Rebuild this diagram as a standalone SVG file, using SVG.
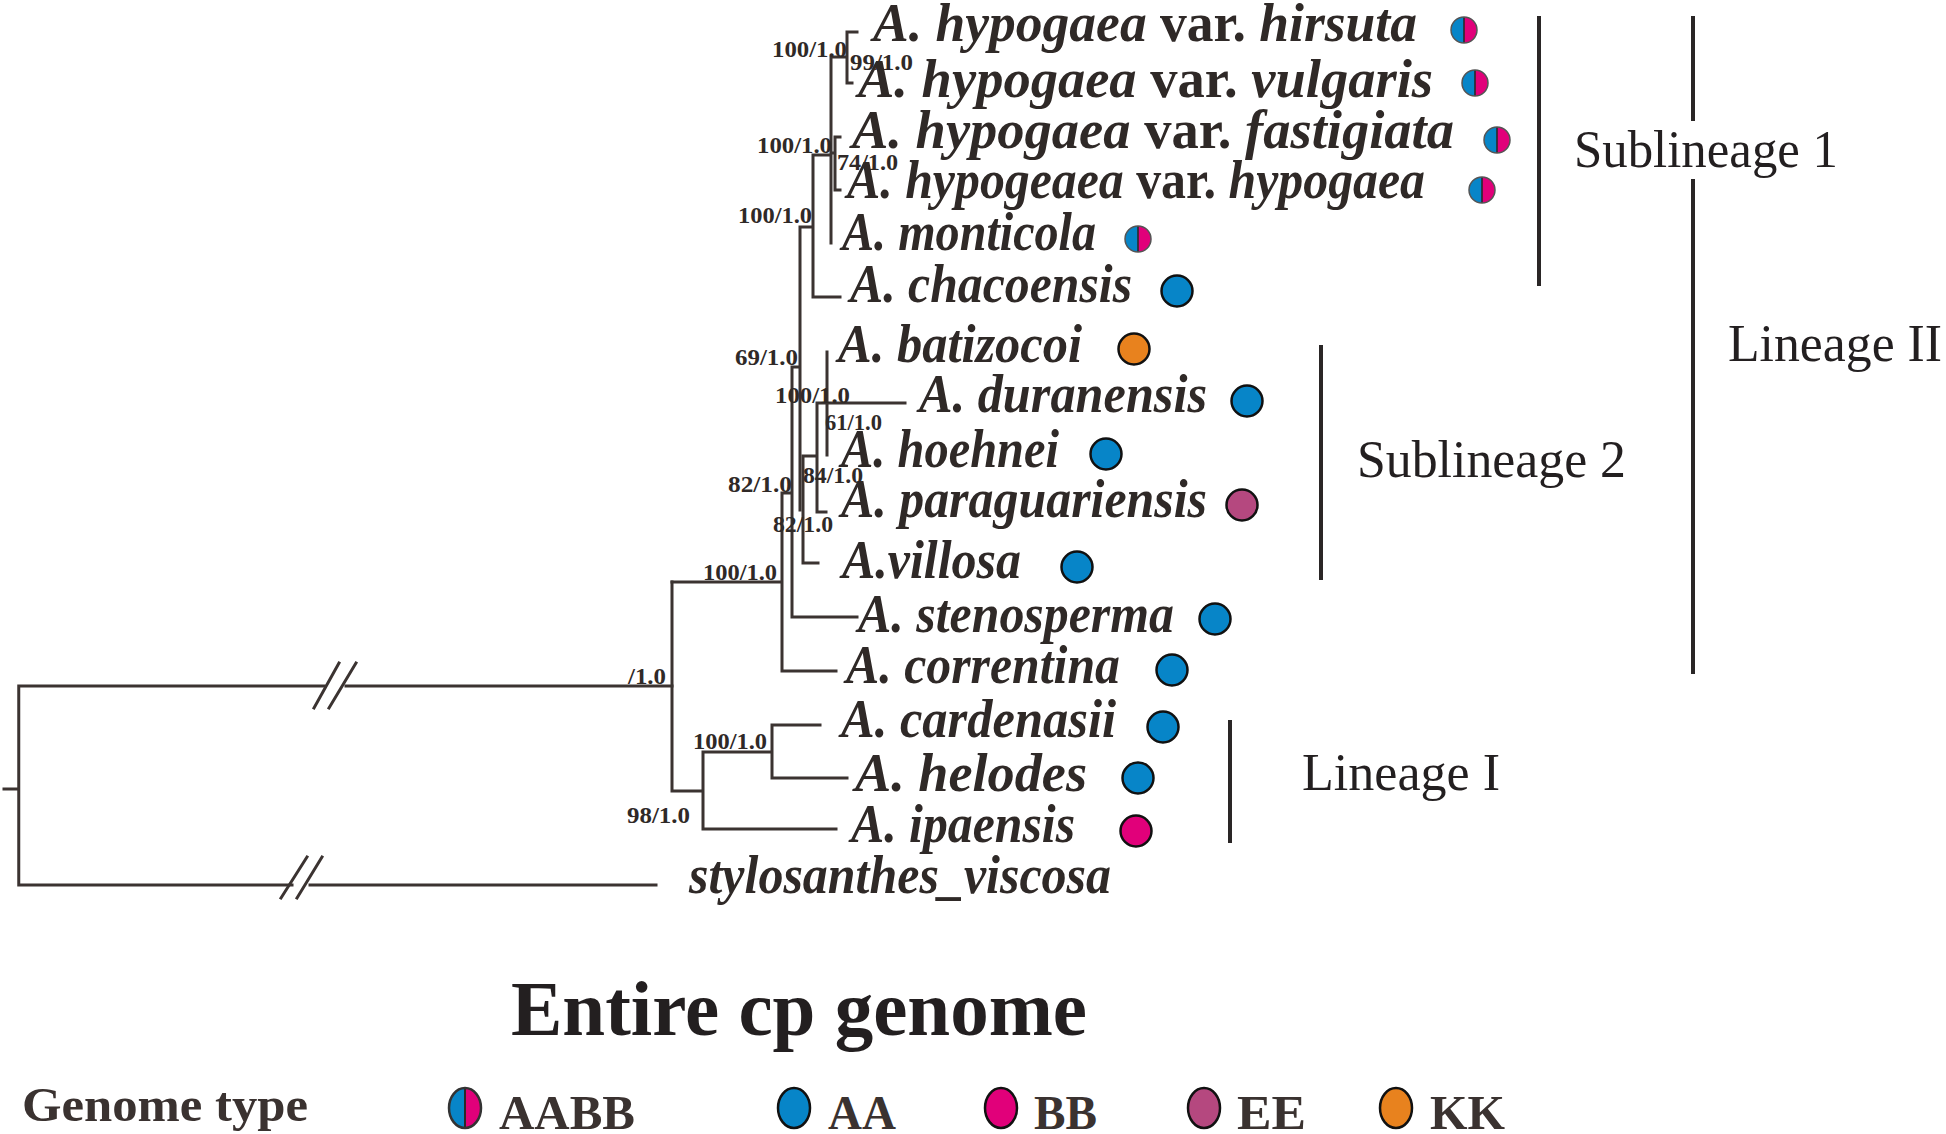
<svg xmlns="http://www.w3.org/2000/svg" xmlns:xlink="http://www.w3.org/1999/xlink" width="1946" height="1134" viewBox="0 0 1946 1134">
<style>
.br{fill:none;stroke:#3b3331;stroke-width:3;stroke-linecap:square}
.bar{fill:none;stroke:#2a2626;stroke-width:4}
.tx{font-family:"Liberation Serif","Times New Roman",serif;font-weight:bold;font-style:italic;font-size:55px;fill:#2f2927}
.up{font-style:normal}
.sup{font-family:"Liberation Serif","Times New Roman",serif;font-weight:bold;font-size:24px;fill:#2f2927}
.grp{font-family:"Liberation Serif","Times New Roman",serif;font-size:53px;fill:#231f20}
.title{font-family:"Liberation Serif","Times New Roman",serif;font-weight:bold;font-size:79px;fill:#231f20}
.leg{font-family:"Liberation Serif","Times New Roman",serif;font-weight:bold;font-size:48px;fill:#3a3230}
.A{fill:#0785c8}.B{fill:#e1007a}.E{fill:#b5487f}.K{fill:#e8821e}
.dot{stroke:#111;stroke-width:2.5}
</style>
<defs>
<g id="aabb">
<path d="M0,-13 A13,13 0 0 0 0,13 Z" class="A"/>
<path d="M0,-13 A13,13 0 0 1 0,13 Z" class="B"/>
<line x1="0" y1="-13" x2="0" y2="13" stroke="#2a2a2a" stroke-width="1.6"/>
<circle r="13" fill="none" stroke="#555" stroke-width="1.5"/>
</g>
<g id="aabbL">
<path d="M0,-20 A16,20 0 0 0 0,20 Z" class="A"/>
<path d="M0,-20 A16,20 0 0 1 0,20 Z" class="B"/>
<line x1="0" y1="-20" x2="0" y2="20" stroke="#2a2a2a" stroke-width="2"/>
<ellipse rx="16" ry="20" fill="none" stroke="#333" stroke-width="2.5"/>
</g>
</defs>

<g id="connectors">
<path class="br" d="M4,789 H18.75 M18.75,686 V885 M18.75,686 H324 M346,686 H672 M18.75,885 H292 M310,885 H656"/>
<path class="br" d="M314,708 L339,663 M329,708 L356,663 M281,898 L307,857 M297,898 L322,857"/>
<path class="br" d="M672,582 V791 M672,791 H703 M703,752 V829 M703,829 H836 M703,752 H772 M772,725 V778 M772,725 H820 M772,778 H847"/>
<path class="br" d="M672,582 H782 M782,493 V671 M782,671 H836 M782,493 H792 M792,367 V617 M792,617 H857 M792,367 H800 M800,227 V510 M800,227 H813 M813,155 V297 M813,297 H840 M813,155 H831 M831,57 V243 M831,57 H847 M847,32 V83 M847,32 H857 M847,83 H852 M831,153 H835 M835,137 V190 M835,137 H840 M835,190 H840"/>
<path class="br" d="M803,456 V563 M803,563 H818 M803,456 H817 M817,403 V512 M817,512 H826 M817,403 H905 M827,352 V455"/>
</g>

<g id="support">
<text class="sup" x="772" y="57" textLength="75" lengthAdjust="spacingAndGlyphs">100/1.0</text>
<text class="sup" x="850" y="70" textLength="63" lengthAdjust="spacingAndGlyphs">99/1.0</text>
<text class="sup" x="757" y="153" textLength="75" lengthAdjust="spacingAndGlyphs">100/1.0</text>
<text class="sup" x="837" y="170" textLength="61" lengthAdjust="spacingAndGlyphs">74/1.0</text>
<text class="sup" x="738" y="223" textLength="74" lengthAdjust="spacingAndGlyphs">100/1.0</text>
<text class="sup" x="735" y="365" textLength="63" lengthAdjust="spacingAndGlyphs">69/1.0</text>
<text class="sup" x="775" y="403" textLength="75" lengthAdjust="spacingAndGlyphs">100/1.0</text>
<text class="sup" x="825" y="430" textLength="57" lengthAdjust="spacingAndGlyphs">61/1.0</text>
<text class="sup" x="803" y="483" textLength="60" lengthAdjust="spacingAndGlyphs">84/1.0</text>
<text class="sup" x="728" y="492" textLength="64" lengthAdjust="spacingAndGlyphs">82/1.0</text>
<text class="sup" x="773" y="532" textLength="60" lengthAdjust="spacingAndGlyphs">82/1.0</text>
<text class="sup" x="703" y="580" textLength="74" lengthAdjust="spacingAndGlyphs">100/1.0</text>
<text class="sup" x="628" y="684" textLength="38" lengthAdjust="spacingAndGlyphs">/1.0</text>
<text class="sup" x="693" y="749" textLength="74" lengthAdjust="spacingAndGlyphs">100/1.0</text>
<text class="sup" x="627" y="823" textLength="63" lengthAdjust="spacingAndGlyphs">98/1.0</text>
</g>

<g id="taxon-hirsuta"><text class="tx" x="873" y="41" textLength="544" lengthAdjust="spacingAndGlyphs">A. hypogaea <tspan class="up">var.</tspan> hirsuta</text><use xlink:href="#aabb" href="#aabb" x="1464" y="30"/></g>
<g id="taxon-vulgaris"><text class="tx" x="858" y="97" textLength="575" lengthAdjust="spacingAndGlyphs">A. hypogaea <tspan class="up">var.</tspan> vulgaris</text><use xlink:href="#aabb" href="#aabb" x="1475" y="83"/></g>
<g id="taxon-fastigiata"><text class="tx" x="852" y="148" textLength="602" lengthAdjust="spacingAndGlyphs">A. hypogaea <tspan class="up">var.</tspan> fastigiata</text><use xlink:href="#aabb" href="#aabb" x="1497" y="140"/></g>
<g id="taxon-hypogaea"><text class="tx" x="847" y="198" textLength="578" lengthAdjust="spacingAndGlyphs">A. hypogeaea <tspan class="up">var.</tspan> hypogaea</text><use xlink:href="#aabb" href="#aabb" x="1482" y="190"/></g>
<g id="taxon-monticola"><text class="tx" x="842" y="250" textLength="254" lengthAdjust="spacingAndGlyphs">A. monticola</text><use xlink:href="#aabb" href="#aabb" x="1138" y="239"/></g>
<g id="taxon-chacoensis"><text class="tx" x="850" y="302" textLength="282" lengthAdjust="spacingAndGlyphs">A. chacoensis</text><circle class="A dot" cx="1177" cy="291" r="15.5"/></g>
<g id="taxon-batizocoi"><text class="tx" x="838" y="362" textLength="244" lengthAdjust="spacingAndGlyphs">A. batizocoi</text><circle class="K dot" cx="1134" cy="349" r="15.5"/></g>
<g id="taxon-duranensis"><text class="tx" x="919" y="412" textLength="288" lengthAdjust="spacingAndGlyphs">A. duranensis</text><circle class="A dot" cx="1247" cy="401" r="15.5"/></g>
<g id="taxon-hoehnei"><text class="tx" x="841" y="467" textLength="218" lengthAdjust="spacingAndGlyphs">A. hoehnei</text><circle class="A dot" cx="1106" cy="454" r="15.5"/></g>
<g id="taxon-paraguariensis"><text class="tx" x="841" y="517" textLength="366" lengthAdjust="spacingAndGlyphs">A. paraguariensis</text><circle class="E dot" cx="1242" cy="505" r="15.5"/></g>
<g id="taxon-villosa"><text class="tx" x="842" y="578" textLength="179" lengthAdjust="spacingAndGlyphs">A.villosa</text><circle class="A dot" cx="1077" cy="567" r="15.5"/></g>
<g id="taxon-stenosperma"><text class="tx" x="858" y="632" textLength="316" lengthAdjust="spacingAndGlyphs">A. stenosperma</text><circle class="A dot" cx="1215" cy="619" r="15.5"/></g>
<g id="taxon-correntina"><text class="tx" x="846" y="683" textLength="274" lengthAdjust="spacingAndGlyphs">A. correntina</text><circle class="A dot" cx="1172" cy="670" r="15.5"/></g>
<g id="taxon-cardenasii"><text class="tx" x="841" y="737" textLength="275" lengthAdjust="spacingAndGlyphs">A. cardenasii</text><circle class="A dot" cx="1163" cy="727" r="15.5"/></g>
<g id="taxon-helodes"><text class="tx" x="855" y="791" textLength="232" lengthAdjust="spacingAndGlyphs">A. helodes</text><circle class="A dot" cx="1138" cy="778" r="15.5"/></g>
<g id="taxon-ipaensis"><text class="tx" x="851" y="842" textLength="224" lengthAdjust="spacingAndGlyphs">A. ipaensis</text><circle class="B dot" cx="1136" cy="831" r="15.5"/></g>
<g id="taxon-stylosanthes"><text class="tx" x="689" y="893" textLength="422" lengthAdjust="spacingAndGlyphs">stylosanthes_viscosa</text></g>

<g id="groups">
<line class="bar" x1="1539" y1="16" x2="1539" y2="286"/>
<text class="grp" x="1574" y="167" textLength="264" lengthAdjust="spacingAndGlyphs">Sublineage 1</text>
<line class="bar" x1="1693" y1="16" x2="1693" y2="121"/>
<line class="bar" x1="1693" y1="179" x2="1693" y2="674"/>
<text class="grp" x="1728" y="361" textLength="214" lengthAdjust="spacingAndGlyphs">Lineage II</text>
<line class="bar" x1="1321" y1="345" x2="1321" y2="580"/>
<text class="grp" x="1357" y="477" textLength="269" lengthAdjust="spacingAndGlyphs">Sublineage 2</text>
<line class="bar" x1="1230" y1="720" x2="1230" y2="843"/>
<text class="grp" x="1302" y="790" textLength="198" lengthAdjust="spacingAndGlyphs">Lineage I</text>
</g>

<text class="title" x="511" y="1035" textLength="576" lengthAdjust="spacingAndGlyphs">Entire cp genome</text>

<g id="legend">
<text class="leg" x="22" y="1121" textLength="286" lengthAdjust="spacingAndGlyphs">Genome type</text>
<use xlink:href="#aabbL" href="#aabbL" x="465" y="1108"/>
<text class="leg" x="499" y="1129" textLength="136" lengthAdjust="spacingAndGlyphs">AABB</text>
<ellipse class="A dot" cx="794" cy="1108" rx="16" ry="20"/>
<text class="leg" x="828" y="1129" textLength="68" lengthAdjust="spacingAndGlyphs">AA</text>
<ellipse class="B dot" cx="1001" cy="1108" rx="16" ry="20"/>
<text class="leg" x="1034" y="1129" textLength="63" lengthAdjust="spacingAndGlyphs">BB</text>
<ellipse class="E dot" cx="1204" cy="1108" rx="16" ry="20"/>
<text class="leg" x="1237" y="1129" textLength="69" lengthAdjust="spacingAndGlyphs">EE</text>
<ellipse class="K dot" cx="1396" cy="1108" rx="16" ry="20"/>
<text class="leg" x="1430" y="1129" textLength="75" lengthAdjust="spacingAndGlyphs">KK</text>
</g>
</svg>
